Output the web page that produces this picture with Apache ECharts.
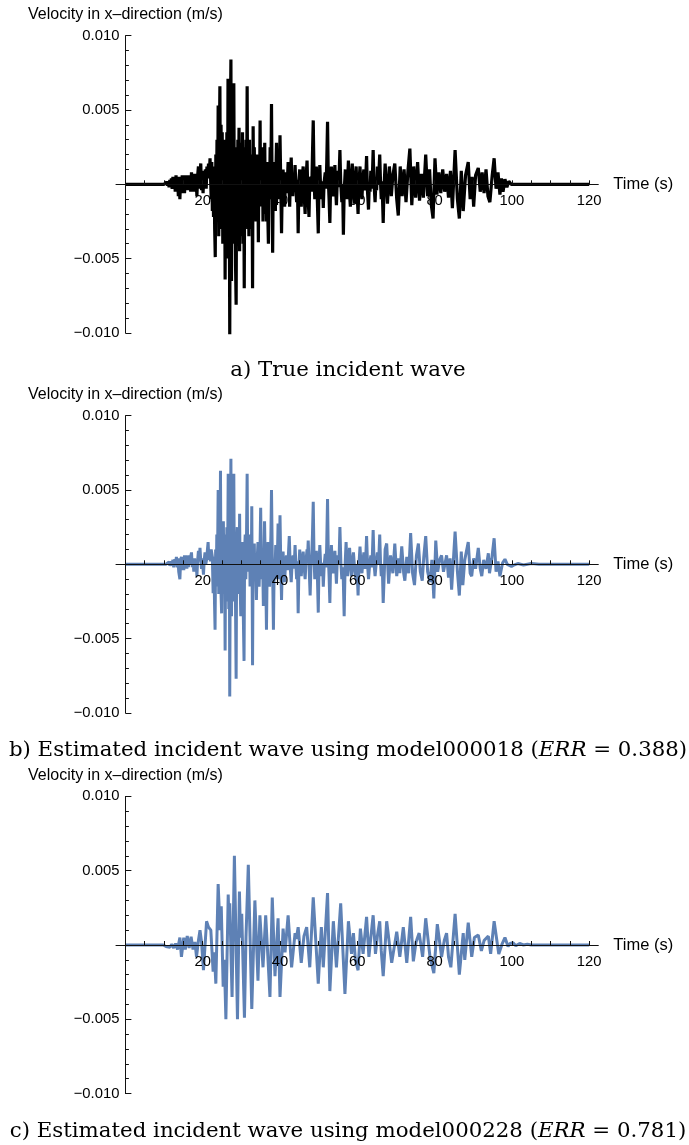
<!DOCTYPE html>
<html><head><meta charset="utf-8">
<script src="https://cdn.jsdelivr.net/npm/echarts@6/dist/echarts.min.js"></script>
<style>html,body{margin:0;padding:0;background:#fff}#c{width:689px;height:1145px}</style>
</head><body><div id="c"></div><script>
// [time (s), velocity (m/s)]
const waveA = [[0,0],[10,0],[10.3,0.0001],[10.5,-0.0001],[10.7,0.00015],[10.9,-0.0001],[11.1,0.0002],[11.3,-0.0002],[11.5,0.0003],[11.7,-0.00015],[11.9,0.0004],[12.1,-0.0003],[12.3,0.0005],[12.5,-0.0002],[12.7,0.0004],[12.9,-0.0005],[13.1,0.0006],[13.3,-0.0003],[13.5,0.0005],[13.7,-0.0008],[13.9,0.0003],[14.1,-0.001],[14.3,0.0005],[14.5,-0.0006],[14.7,0.0006],[14.9,-0.0004],[15.1,0.0005],[15.3,-0.0006],[15.5,0.0006],[15.7,-0.0003],[15.9,0.0005],[16.1,-0.0004],[16.3,0.0006],[16.5,-0.0003],[16.7,0.0004],[16.9,-0.0005],[17.1,0.0008],[17.3,-0.0003],[17.5,0.0006],[17.7,-0.0005],[17.9,0.0007],[18.1,-0.0004],[18.3,0.0005],[18.5,-0.0008],[18.7,0.0006],[18.9,0.0012],[19.1,-0.0003],[19.3,0.0008],[19.5,0.0014],[19.7,-0.0004],[19.9,0.0005],[20.1,-0.0006],[20.3,0.0009],[20.5,0.0002],[20.7,0.001],[20.9,-0.0003],[21.1,0.0012],[21.3,0.0004],[21.5,0.0014],[21.7,0.0006],[21.9,0.00175],[22.2,-0.001],[22.35,0.0015],[22.5,-0.0018],[22.65,0.0005],[22.8,-0.0022],[22.95,0.0012],[23.1,-0.003],[23.25,-0.0049],[23.4,0.002],[23.55,-0.0015],[23.7,0.003],[23.85,-0.0025],[24,0.0053],[24.15,-0.0035],[24.3,0.0025],[24.45,0.0066],[24.6,-0.003],[24.75,0.004],[24.9,-0.0025],[25.05,0.0035],[25.2,-0.004],[25.35,0.002],[25.5,-0.003],[25.65,0.003],[25.8,-0.0064],[25.95,0.0015],[26.1,-0.004],[26.25,0.0035],[26.4,-0.005],[26.55,0.0071],[26.7,-0.003],[26.85,0.002],[27,-0.0101],[27.15,0.004],[27.3,0.0084],[27.45,-0.0065],[27.6,0.003],[27.75,-0.004],[27.9,0.0045],[28.05,0.0068],[28.2,-0.003],[28.35,0.0025],[28.5,-0.0055],[28.65,-0.0081],[28.8,0.002],[28.95,-0.003],[29.1,0.003],[29.25,-0.002],[29.4,0.0038],[29.55,-0.0045],[29.7,0.002],[29.85,-0.0035],[30,0.0028],[30.15,-0.002],[30.3,0.0035],[30.45,-0.004],[30.6,0.001],[30.75,-0.007],[30.9,0.0025],[31.05,-0.0025],[31.2,0.003],[31.35,-0.002],[31.5,0.0066],[31.65,-0.003],[31.8,0.0025],[31.95,-0.0035],[32.1,0.003],[32.25,-0.002],[32.4,0.0015],[32.55,-0.003],[32.75,0.002],[32.9,-0.007],[33.05,0.0039],[33.2,-0.0015],[33.35,0.0025],[33.5,-0.002],[33.65,0.0015],[33.8,-0.0025],[33.95,0.002],[34.1,-0.0015],[34.25,0.001],[34.4,-0.0039],[34.55,0.0015],[34.7,-0.001],[34.85,0.0043],[35,-0.0015],[35.15,0.0025],[35.3,-0.001],[35.45,0.0025],[35.6,-0.0025],[35.75,0.0015],[35.9,-0.0015],[36.05,0.0028],[36.2,-0.002],[36.35,0.0015],[36.5,-0.0025],[36.65,0.001],[36.8,-0.0015],[37,-0.004],[37.15,0.0015],[37.3,-0.001],[37.45,0.0025],[37.6,-0.001],[37.8,0.0054],[38,-0.002],[38.1,-0.0046],[38.25,0.0005],[38.4,0.0015],[38.6,-0.0005],[38.8,-0.0018],[38.95,0.0008],[39.1,0.0028],[39.3,0.0002],[39.5,-0.001],[39.7,0.0008],[39.85,-0.0003],[40,0.0033],[40.2,0],[40.4,-0.0033],[40.6,0.0003],[40.8,0.001],[41,-0.0003],[41.2,-0.0015],[41.4,0.0002],[41.6,0.0008],[41.8,-0.0006],[42.1,0.0015],[42.3,0.0002],[42.5,-0.0015],[42.7,0.0005],[42.9,0.0018],[43.1,-0.0002],[43.3,-0.0008],[43.5,0.0006],[43.7,-0.0003],[43.9,0.0013],[44.1,0],[44.3,-0.0012],[44.5,0.0003],[44.7,-0.0033],[44.9,0.0002],[45.1,0.001],[45.3,-0.0004],[45.5,-0.0015],[45.7,0.0003],[46,0.0012],[46.2,-0.0004],[46.5,-0.002],[46.7,0.0002],[47,0.0016],[47.2,-0.0005],[47.5,-0.0022],[47.7,0.0002],[48,0.0005],[48.2,-0.0005],[48.4,0.002],[48.6,0.0043],[48.8,0.0005],[49,-0.001],[49.2,0.0002],[49.4,0.0012],[49.6,-0.0005],[49.9,-0.0033],[50.1,0.0002],[50.3,0.0013],[50.5,-0.0002],[50.8,-0.001],[51,0.0002],[51.2,-0.0016],[51.4,0.0001],[51.7,0.0008],[51.9,-0.0003],[52.1,0.0015],[52.3,0.0042],[52.5,0.0003],[52.7,-0.001],[52.9,-0.0026],[53.1,0],[53.3,0.0012],[53.5,-0.0003],[53.8,-0.0008],[54,0.0003],[54.2,0.0013],[54.4,-0.0003],[54.6,-0.0014],[54.8,0.0002],[55,0.0009],[55.2,-0.0002],[55.5,0.0023],[55.7,0.0002],[56,-0.0012],[56.2,0],[56.4,-0.0034],[56.6,-0.0005],[56.9,0.001],[57.1,-0.0003],[57.3,-0.001],[57.5,0.0003],[57.7,0.0016],[57.9,-0.0002],[58.2,-0.0015],[58.4,0.0003],[58.7,0.0014],[58.9,-0.0002],[59.2,-0.0013],[59.4,0.0002],[59.7,0.0012],[59.9,-0.0003],[60.2,-0.002],[60.4,0],[60.7,0.0012],[60.9,-0.0002],[61.2,-0.001],[61.4,0.0003],[61.7,0.001],[61.9,-0.0004],[62.2,0.0005],[62.4,0.0019],[62.6,-0.0003],[62.9,-0.0017],[63.1,0],[63.3,-0.0005],[63.5,0.0009],[63.7,-0.0003],[63.9,0.0005],[64.1,0.0023],[64.3,0.0002],[64.6,-0.0012],[64.8,0.0001],[65,-0.0004],[65.2,0.0012],[65.4,0],[65.6,0.0008],[65.8,0.002],[66,0.0002],[66.2,-0.001],[66.4,0.0002],[66.7,-0.0026],[66.9,-0.0003],[67.2,0.0014],[67.8,-0.0013],[68.3,0.0012],[68.8,-0.0008],[69.2,0.0006],[69.7,0.0014],[70.2,-0.001],[70.6,-0.0021],[71.1,0.0012],[71.6,-0.0008],[72.1,0.001],[72.6,-0.0012],[73.1,0.0009],[73.6,0.0024],[74.1,-0.0014],[74.6,0.0012],[75.1,-0.0009],[75.6,0.0015],[76.1,-0.0011],[76.6,0.0007],[77.1,-0.0009],[77.7,0.002],[78.2,-0.0008],[78.7,0.001],[79.1,-0.0013],[79.6,-0.0023],[80.1,0.00175],[80.6,-0.0007],[81.1,0.0008],[81.6,-0.0006],[82.1,0.001],[82.6,-0.0005],[83.1,0.0007],[83.6,-0.0009],[84.1,0.0009],[84.6,-0.0016],[85.3,0.0023],[85.9,-0.001],[86.4,-0.0023],[86.9,0.0009],[87.4,-0.0018],[88,0.0006],[88.7,0.0015],[89.2,-0.001],[89.7,0.0005],[90.1,-0.0015],[90.6,0.0006],[91.3,0.0011],[91.8,-0.0005],[92.3,0.0008],[92.8,-0.0006],[93.3,0.001],[93.8,-0.0008],[94.3,-0.0012],[94.9,0.0006],[95.4,0.00175],[95.9,-0.0003],[96.4,0.0008],[96.9,-0.0007],[97.3,0.0004],[97.7,-0.0005],[98.2,0.00034],[98.7,-0.0002],[99.2,0.0002],[99.8,0],[120,0]];

const waveB = [[0,0],[10.5,0],[10.8,0.0001],[11,-0.00005],[11.3,0.00015],[11.5,-0.0001],[11.8,0.0002],[12,-0.0001],[12.3,0.0003],[12.5,-0.0002],[12.8,0.00035],[13,0.0001],[13.2,0.0005],[13.4,-0.0002],[13.6,0.0004],[13.8,-0.0005],[14.1,-0.001],[14.3,0.0003],[14.5,0.0005],[14.7,-0.0004],[14.9,0.0003],[15.1,-0.0004],[15.3,0.0006],[15.5,0.0002],[15.7,0.0006],[15.9,-0.0003],[16.1,0.0004],[16.3,-0.0002],[16.5,0.0006],[16.7,0],[16.9,0.0005],[17.1,0.0008],[17.3,-0.0002],[17.5,0.0003],[17.7,-0.0005],[17.9,0.0004],[18.1,-0.0003],[18.3,0.0003],[18.5,-0.0008],[18.7,0.0003],[18.9,0.0009],[19.1,0.0002],[19.3,0.0011],[19.5,0.0002],[19.7,-0.0003],[19.9,0.0004],[20.2,-0.0007],[20.4,0.0003],[20.6,0.0008],[20.8,0],[21,0.0003],[21.2,0.0009],[21.4,0.0015],[21.6,0.0003],[21.8,0.0008],[22,0.0002],[22.2,0.001],[22.5,0.0005],[22.7,-0.00195],[22.9,0.0005],[23.05,-0.0025],[23.2,-0.0044],[23.35,0.001],[23.5,-0.0015],[23.65,0.002],[23.8,-0.001],[24,0.005],[24.15,-0.002],[24.3,0.0025],[24.45,-0.0015],[24.6,0.0063],[24.75,-0.002],[24.9,-0.0033],[25.05,0.002],[25.2,-0.0015],[25.35,0.0029],[25.5,-0.002],[25.65,0.0015],[25.8,-0.0058],[25.95,0.002],[26.1,-0.0025],[26.25,0.0025],[26.4,-0.002],[26.6,0.0061],[26.75,-0.003],[26.9,0.0015],[27,-0.0089],[27.15,0.002],[27.3,0.0071],[27.45,-0.0035],[27.6,0.002],[27.75,-0.0025],[27.9,0.0025],[28.05,0.0061],[28.2,-0.002],[28.35,0.0015],[28.5,-0.003],[28.65,-0.0077],[28.8,0.0015],[28.95,0.0025],[29.1,-0.0015],[29.25,0.0015],[29.4,-0.002],[29.55,0.0034],[29.7,-0.0015],[29.85,-0.0035],[30,0.001],[30.15,-0.0015],[30.3,0.0015],[30.45,-0.0025],[30.7,-0.0065],[30.85,0.001],[31,0.002],[31.15,-0.001],[31.3,0.001],[31.5,0.0061],[31.65,-0.0005],[31.8,0.001],[31.95,0.0003],[32.1,0.002],[32.25,-0.0015],[32.4,0.002],[32.55,-0.001],[32.7,0.0039],[32.9,-0.0068],[33.05,0.001],[33.2,-0.001],[33.35,0.0014],[33.5,-0.001],[33.65,0.0005],[33.9,-0.0024],[34.1,0.0003],[34.3,0.0015],[34.45,-0.0003],[34.6,-0.0015],[34.8,0.0005],[35,0.0038],[35.15,0.0002],[35.3,-0.001],[35.5,0.0003],[35.7,-0.0028],[35.85,0.0003],[36,0.0029],[36.2,0],[36.35,-0.0015],[36.5,-0.0044],[36.7,0.0002],[36.9,0.0015],[37.1,-0.0003],[37.3,-0.0015],[37.5,0.0005],[37.65,0.002],[37.8,0.005],[38,0.0005],[38.15,-0.0015],[38.3,-0.0044],[38.5,0],[38.7,-0.0005],[38.9,0.0013],[39.05,0],[39.2,-0.001],[39.35,0.0008],[39.5,0.00275],[39.65,0.0002],[39.8,-0.001],[40,0.0033],[40.2,0],[40.4,-0.0024],[40.6,0.0002],[40.8,0.00085],[41,-0.0003],[41.2,-0.0012],[41.45,0.0002],[41.7,0.0006],[41.9,-0.0004],[42.15,0.0005],[42.4,0.0019],[42.65,-0.0002],[42.9,-0.0012],[43.15,0.0002],[43.4,0.0006],[43.65,-0.0003],[43.9,0.0013],[44.1,0],[44.3,-0.001],[44.5,0.0002],[44.7,-0.0033],[44.9,-0.0002],[45.1,0.001],[45.3,-0.0002],[45.5,-0.0008],[45.75,0.0003],[46,0.00085],[46.25,-0.0002],[46.5,-0.001],[46.75,0.0003],[47,0.001],[47.15,0.0006],[47.3,0.0016],[47.55,-0.0003],[47.8,-0.0021],[48,-0.0002],[48.2,0.0005],[48.4,0.002],[48.6,0.0042],[48.8,0.0005],[49,-0.001],[49.2,0],[49.4,0.0009],[49.65,-0.0005],[49.9,-0.00325],[50.1,0],[50.3,0.0013],[50.55,-0.0002],[50.8,-0.0008],[51,0.0001],[51.2,-0.0015],[51.45,0],[51.7,0.0007],[51.95,-0.0002],[52.1,0.0015],[52.3,0.0044],[52.5,0.0005],[52.7,-0.0008],[52.9,-0.0026],[53.1,0],[53.3,0.0013],[53.55,-0.0002],[53.8,-0.0006],[54,0.0002],[54.2,0.0009],[54.4,-0.0002],[54.6,-0.0013],[54.8,0.0001],[55,0.0006],[55.25,0],[55.5,0.0025],[55.75,0.0001],[56,-0.001],[56.3,-0.0002],[56.6,-0.0035],[56.85,0],[57.1,0.0015],[57.3,0.0001],[57.5,-0.0008],[57.75,0.0003],[58,0.0011],[58.25,0],[58.5,-0.0008],[58.75,0.0002],[59,0.0008],[59.3,-0.0003],[59.6,-0.001],[59.9,0],[60.2,-0.0021],[60.45,0.0001],[60.7,0.0012],[60.95,0],[61.2,-0.0006],[61.45,0.0002],[61.7,0.0008],[61.95,-0.0003],[62.2,0.0005],[62.4,0.0019],[62.65,0],[62.9,-0.001],[63.2,0],[63.5,0.0006],[63.8,-0.0002],[64.1,0.0023],[64.35,0],[64.6,-0.0008],[64.9,0.0001],[65.2,0.0008],[65.5,0],[65.8,0.002],[66,0.0002],[66.2,-0.0008],[66.45,0],[66.7,-0.0026],[67.2,0.001],[67.6,0.0014],[68.1,-0.0013],[68.6,0.0006],[69.2,-0.0006],[69.7,0.0014],[70.2,-0.0008],[70.7,0.0004],[71,-0.0006],[71.5,0.0012],[72,-0.0006],[72.3,-0.0011],[72.8,0.0005],[73.3,-0.0006],[73.8,0.0021],[74.3,-0.0006],[74.8,-0.0014],[75.3,0.0006],[75.8,0.0014],[76.3,-0.0005],[76.8,-0.0011],[77.2,0.0005],[77.7,0.0019],[78.2,-0.0005],[78.8,-0.0012],[79.3,0.0003],[79.8,-0.0023],[80.3,0.0016],[80.8,-0.0005],[81.3,0.0003],[81.8,0.0006],[82.3,-0.0005],[83.1,0.0006],[83.6,-0.0009],[84,0.0004],[84.4,-0.0017],[85.3,0.0022],[85.9,-0.0005],[86.4,-0.0021],[86.9,0.00085],[87.3,-0.0014],[87.8,0.0003],[88.7,0.0015],[89.2,-0.0006],[89.6,-0.0008],[90.1,0.0004],[90.6,-0.0003],[91.3,0.0011],[91.8,-0.0003],[92.2,-0.0008],[92.7,0.0003],[93.3,-0.0003],[93.9,0.00074],[94.2,-0.0006],[94.8,0.0004],[95.4,0.00175],[95.9,-0.0005],[96.4,0.0002],[96.9,-0.0008],[97.6,0.0001],[98.2,0.00034],[98.8,0],[99.3,0.0001],[99.9,-0.00015],[100.5,-0.00005],[101.5,0.00005],[103,-0.00005],[105,0.00005],[107,0],[120,0]];

const waveC = [[0,0],[9.8,0],[10.5,-0.0001],[11,0],[11.5,-0.00015],[12,0.00005],[12.5,-0.0002],[13,0.0001],[13.5,-0.0003],[14.1,0.0005],[14.5,-0.0008],[15.1,0.0005],[15.5,-0.0003],[16,0.0006],[16.5,-0.0002],[17,0.00056],[17.5,-0.0003],[18,0.0002],[18.4,-0.0008],[18.9,0.0003],[19.3,0.001],[19.7,0.0002],[20.2,-0.0017],[21,0.0016],[21.5,0.0012],[22.1,0.001],[22.7,-0.0018],[23,-0.0005],[23.4,-0.0026],[24,0.0041],[24.5,0.001],[24.8,0.0026],[25.3,-0.0028],[25.6,-0.001],[26,-0.005],[26.6,0.0034],[26.8,0.0015],[27,0.0028],[27.6,-0.0035],[28.2,0.006],[28.6,0.0005],[29,-0.005],[29.5,0.0036],[29.8,0.0005],[30.1,0.0021],[30.8,-0.0049],[31.2,0.0005],[31.8,0.0054],[32.7,-0.0043],[33.5,0.003],[34.3,-0.0024],[34.8,0.002],[35.6,-0.0015],[36.3,0.002],[37.4,-0.0035],[38,0.0032],[38.7,-0.0021],[39.5,0.0018],[40,-0.0035],[40.8,0.0011],[41.3,-0.0005],[42.1,0.002],[43,-0.0015],[43.9,0.0008],[44.2,0.0004],[44.7,0.0012],[45.5,-0.0012],[46.2,0.0006],[46.9,0.0012],[47.7,-0.0015],[48.6,0.0032],[49.9,-0.0026],[50.7,0.0012],[51.2,-0.0015],[52.3,0.0035],[52.9,-0.0031],[53.8,0.0016],[54.6,-0.0015],[55.7,0.0028],[56.8,-0.0033],[57.7,0.0016],[58.5,-0.0006],[59,0.0008],[59.5,-0.001],[60.2,-0.0017],[60.8,0.0011],[61.5,-0.0006],[62.4,0.0019],[63,-0.0008],[63.5,0.0005],[64.1,0.002],[64.7,-0.0006],[65.2,0.0006],[65.8,0.0016],[66.2,-0.0004],[66.7,-0.0021],[67.6,0.0016],[68.9,-0.0012],[70.2,0.0009],[71,-0.0008],[71.9,0.0012],[72.8,-0.0012],[73.8,0.0019],[74.5,-0.0011],[75.2,0.0002],[76,0.0008],[76.9,-0.0008],[77.7,0.0018],[78.8,-0.0008],[79.8,-0.0019],[80.7,0.0014],[81.8,-0.0008],[82.5,0.0003],[83.1,0.0008],[83.6,-0.0008],[84.2,-0.0015],[85.3,0.0021],[86.4,-0.002],[87.4,0.0008],[87.8,-0.001],[88.7,0.0015],[89.6,-0.0008],[90.3,0.0005],[91.3,0.00067],[92.1,-0.0004],[92.8,0.0003],[93.9,0.0006],[94.5,-0.0006],[95.4,0.0016],[96.6,-0.0006],[97.5,0.0001],[98.2,0.0005],[99,-0.0001],[99.5,0.0001],[100.3,0.00015],[101,-0.00005],[102,0.0001],[103,0],[104,0.00005],[105,0],[120,0]];

const waves = [waveA, waveB, waveC];
const xLabelTicks = [20, 40, 60, 80, 100, 120];
const xTickMarks = [5,10,15,20,25,30,35,40,45,50,55,60,65,70,75,80,85,90,95,100,105,110,115,120];
const captions = [
  'a) True incident wave',
  'b) Estimated incident wave using model000018 ({i|ERR} = 0.388)',
  'c) Estimated incident wave using model000228 ({i|ERR} = 0.781)'
];
const yName = 'Velocity in x\u2013direction (m/s)';
const xName = 'Time (s)';
const lineColors = ['#000000', '#5E81B5', '#5E81B5'];
const lineWidths = [3.2, 3, 3];

const gridTops = [35.7, 415.7, 796.4];
const captionCenters = [370, 750, 1131];
const SANS = 'Liberation Sans, Arial, sans-serif';
const SERIF = 'DejaVu Serif, serif';
const AX = '#111';
const GRID_H = 297.2, XMIN = -2.43, XMAX = 122.35, GRID_W = 482.3;
// distance from grid bottom to the y = 0 line, and from grid left to x = 0
const xAxisOffset = -GRID_H / 2;
const yAxisOffset = -GRID_W * (0 - XMIN) / (XMAX - XMIN);

const grid = [], xAxis = [], yAxis = [], series = [], title = [];
for (let i = 0; i < 3; i++) {
  grid.push({left: 116, top: gridTops[i], width: GRID_W, height: GRID_H, containLabel: false});
  xAxis.push({
    gridIndex: i, type: 'value', min: XMIN, max: XMAX, z: 3,
    position: 'bottom', offset: xAxisOffset,
    axisLine: {show: true, onZero: false, lineStyle: {color: AX, width: 1}},
    axisTick: {show: true, inside: true, length: 4, customValues: xTickMarks, lineStyle: {color: AX}},
    axisLabel: {show: true, customValues: xLabelTicks, margin: 9, fontSize: 14.8, fontFamily: SANS, color: '#000'},
    splitLine: {show: false},
    name: xName, nameLocation: 'end', nameGap: 15,
    nameTextStyle: {fontSize: 16.5, fontFamily: SANS, color: '#000'}
  });
  yAxis.push({
    gridIndex: i, type: 'value', min: -0.01, max: 0.01, interval: 0.005, z: 3,
    position: 'left', offset: yAxisOffset,
    axisLine: {show: true, onZero: false, lineStyle: {color: AX, width: 1}},
    axisTick: {show: true, inside: true, length: 6, lineStyle: {color: AX}},
    minorTick: {show: true, splitNumber: 5, length: 3.5, lineStyle: {color: AX}},
    axisLabel: {show: true, margin: 6, fontSize: 14.8, fontFamily: SANS, color: '#000',
      formatter: v => Math.abs(v) < 1e-9 ? '' : (v < 0 ? '\u2212' : '') + Math.abs(v).toFixed(3)},
    splitLine: {show: false}, minorSplitLine: {show: false},
    name: yName, nameLocation: 'end', nameGap: 13,
    nameTextStyle: {fontSize: 16, fontFamily: SANS, color: '#000', align: 'center'}
  });
  series.push({
    type: 'line', xAxisIndex: i, yAxisIndex: i, data: waves[i],
    showSymbol: false, symbol: 'none', z: 2,
    lineStyle: {color: lineColors[i], width: lineWidths[i], join: 'bevel'}
  });
  title.push({
    text: captions[i], left: 348, textAlign: 'center', top: captionCenters[i] - 13, padding: 0,
    textStyle: {fontFamily: SERIF, fontSize: 21.3, fontWeight: 'normal', color: '#000', lineHeight: 26,
      rich: {i: {fontFamily: SERIF, fontStyle: 'italic', fontSize: 21.3, lineHeight: 26, color: '#000'}}}
  });
}

const chart = echarts.init(document.getElementById('c'), null, {renderer: 'canvas'});
chart.setOption({animation: false, backgroundColor: '#fff', grid, xAxis, yAxis, series, title});
</script></body></html>
